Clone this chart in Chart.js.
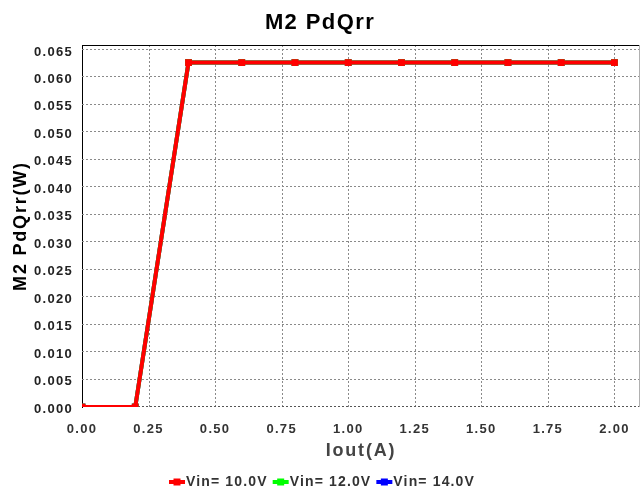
<!DOCTYPE html>
<html>
<head>
<meta charset="utf-8">
<title>M2 PdQrr</title>
<script src="https://cdn.jsdelivr.net/npm/chart.js@4/dist/chart.umd.min.js"></script>
<style>
  html, body { margin: 0; padding: 0; background: #ffffff; }
  canvas { display: block; }
</style>
</head>
<body>
<canvas id="chart" width="641" height="489"></canvas>
<script>
// Output current (A) at each simulated point
const currentA = [0.0, 0.2, 0.4, 0.6, 0.8, 1.0, 1.2, 1.4, 1.6, 1.8, 2.0];

// Reverse-recovery loss of M2 (W) for each input voltage
const pdQrrVin10 = [0.0, 0.0, 0.0627, 0.0627, 0.0627, 0.0627, 0.0627, 0.0627, 0.0627, 0.0627, 0.0627];
const pdQrrVin12 = [0.0, 0.0, 0.0627, 0.0627, 0.0627, 0.0627, 0.0627, 0.0627, 0.0627, 0.0627, 0.0627];
const pdQrrVin14 = [0.0, 0.0, 0.0627, 0.0627, 0.0627, 0.0627, 0.0627, 0.0627, 0.0627, 0.0627, 0.0627];

const seriesLabels = ['Vin= 10.0V', 'Vin= 12.0V', 'Vin= 14.0V'];
const seriesColors = ['#ff0000', '#00ff00', '#0000ff'];

// Tick positions on both axes
const xTickValues = [0, 0.25, 0.5, 0.75, 1.0, 1.25, 1.5, 1.75, 2.0];
const yTickValues = [0, 0.005, 0.01, 0.015, 0.02, 0.025, 0.03, 0.035, 0.04, 0.045, 0.05, 0.055, 0.06, 0.065];

const FONT = "'Liberation Sans', Arial, Helvetica, sans-serif";

// Lettering is slightly tracked; spacing follows the font size.
(function () {
  const proto = CanvasRenderingContext2D.prototype;
  const track = (ctx) => {
    if (!('letterSpacing' in ctx)) return;
    const m = /(\d+(?:\.\d+)?)px/.exec(ctx.font);
    if (!m) return;
    const size = parseFloat(m[1]);
    let spacing = size * 0.1;
    if (size >= 20) spacing = 1.4;
    else if (size === 14) spacing = 1.15;
    ctx.letterSpacing = spacing.toFixed(2) + 'px';
  };
  const fill = proto.fillText;
  const measure = proto.measureText;
  proto.fillText = function (...args) { track(this); return fill.apply(this, args); };
  proto.measureText = function (...args) { track(this); return measure.apply(this, args); };
})();

const toPoints = (ys) => currentA.map((x, i) => ({ x: x, y: ys[i] }));

// Dotted grid behind the series, at every tick of both axes
const dottedGrid = {
  id: 'dottedGrid',
  beforeDatasetsDraw(chart) {
    const { ctx, chartArea: a, scales } = chart;
    ctx.save();
    ctx.lineWidth = 1;
    ctx.strokeStyle = '#8a8a8a';
    ctx.setLineDash([2, 2]);
    xTickValues.forEach(v => {
      const px = Math.round(scales.x.getPixelForValue(v)) + 0.5;
      if (px <= a.left + 1) return;
      ctx.beginPath();
      ctx.moveTo(px, a.top);
      ctx.lineTo(px, a.bottom);
      ctx.stroke();
    });
    yTickValues.forEach(v => {
      const py = Math.round(scales.y.getPixelForValue(v)) - 0.5;
      ctx.strokeStyle = v === 0 ? '#555555' : '#8a8a8a';
      ctx.beginPath();
      ctx.moveTo(a.left, py);
      ctx.lineTo(a.right, py);
      ctx.stroke();
    });
    ctx.restore();
  }
};

// Top and right edges of the plot frame
const frameEdges = {
  id: 'frameEdges',
  afterDraw(chart) {
    const { ctx, chartArea: a } = chart;
    ctx.save();
    ctx.lineWidth = 1;
    ctx.strokeStyle = '#000000';
    ctx.beginPath();
    ctx.moveTo(a.left, a.top + 0.5);
    ctx.lineTo(a.right, a.top + 0.5);
    ctx.stroke();
    ctx.strokeStyle = '#b0b0b0';
    ctx.beginPath();
    ctx.moveTo(a.right - 0.5, a.top);
    ctx.lineTo(a.right - 0.5, a.bottom);
    ctx.stroke();
    ctx.restore();
  }
};

// Series key along the bottom: short line with a square marker, then the label
const seriesKey = {
  id: 'seriesKey',
  afterDraw(chart) {
    const ctx = chart.ctx;
    const sets = chart.data.datasets;
    const iconW = 16, iconGap = 1, itemGap = 5, cy = 482;
    ctx.save();
    ctx.font = 'bold 14px ' + FONT;
    const widths = sets.map(d => ctx.measureText(d.label).width);
    const total = widths.reduce((s, w) => s + iconW + iconGap + w, 0) + itemGap * (sets.length - 1);
    let x = Math.round(322.5 - total / 2);
    sets.forEach((d, i) => {
      ctx.fillStyle = d.borderColor;
      ctx.fillRect(x, cy - 2, iconW, 4);
      ctx.fillRect(x + iconW / 2 - 3.5, cy - 3.5, 7, 7);
      ctx.fillStyle = '#333333';
      ctx.textAlign = 'left';
      ctx.textBaseline = 'middle';
      ctx.fillText(d.label, x + iconW + iconGap, cy);
      x += iconW + iconGap + widths[i] + itemGap;
    });
    ctx.restore();
  }
};

const makeSeries = (label, color, ys) => ({
  label: label,
  data: toPoints(ys),
  borderColor: color,
  backgroundColor: color,
  borderWidth: 4,
  pointStyle: 'rect',
  pointRadius: 4.8,
  pointBorderWidth: 0,
  pointHoverRadius: 4.8,
  tension: 0,
  fill: false
});

new Chart(document.getElementById('chart'), {
  type: 'line',
  data: {
    datasets: [
      makeSeries(seriesLabels[0], seriesColors[0], pdQrrVin10),
      makeSeries(seriesLabels[1], seriesColors[1], pdQrrVin12),
      makeSeries(seriesLabels[2], seriesColors[2], pdQrrVin14)
    ]
  },
  options: {
    responsive: false,
    animation: false,
    events: [],
    layout: { autoPadding: false, padding: { top: 0, left: 0, right: 1, bottom: 0 } },
    plugins: {
      legend: { display: false },
      tooltip: { enabled: false },
      title: {
        display: true,
        text: 'M2 PdQrr',
        color: '#000000',
        font: { family: FONT, size: 22, weight: 'bold' },
        padding: { top: 10, bottom: 8.6 }
      }
    },
    scales: {
      x: {
        type: 'linear',
        min: 0,
        max: 2.096,
        afterBuildTicks(scale) { scale.ticks = xTickValues.map(v => ({ value: v })); },
        afterFit(scale) {
          scale.height = 82;
          scale.paddingLeft = 0;
          scale.paddingRight = 0;
        },
        ticks: {
          padding: 15,
          color: '#333333',
          font: { family: FONT, size: 13, weight: 'bold' },
          maxRotation: 0,
          autoSkip: false,
          callback: (v) => Number(v).toFixed(2)
        },
        grid: { drawOnChartArea: false, drawTicks: false },
        border: { display: false },
        title: {
          display: true,
          text: 'Iout(A)',
          color: '#444444',
          font: { family: FONT, size: 18, weight: 'bold' },
          padding: { top: 0, bottom: 27 }
        }
      },
      y: {
        type: 'linear',
        min: 0,
        max: 0.0659,
        afterBuildTicks(scale) { scale.ticks = yTickValues.map(v => ({ value: v })); },
        afterFit(scale) {
          scale.width = 82;
          scale.paddingTop = 0;
          scale.paddingBottom = 0;
        },
        ticks: {
          padding: 9,
          labelOffset: 2,
          color: '#222222',
          font: { family: FONT, size: 13, weight: 'bold' },
          autoSkip: false,
          callback: (v) => Number(v).toFixed(3)
        },
        grid: { drawOnChartArea: false, drawTicks: false },
        border: { display: true, color: '#000000', width: 1 },
        title: {
          display: true,
          text: 'M2 PdQrr(W)',
          color: '#000000',
          font: { family: FONT, size: 18, weight: 'bold' },
          padding: { top: 10, bottom: 0 }
        }
      }
    }
  },
  plugins: [dottedGrid, frameEdges, seriesKey]
});
</script>
</body>
</html>
